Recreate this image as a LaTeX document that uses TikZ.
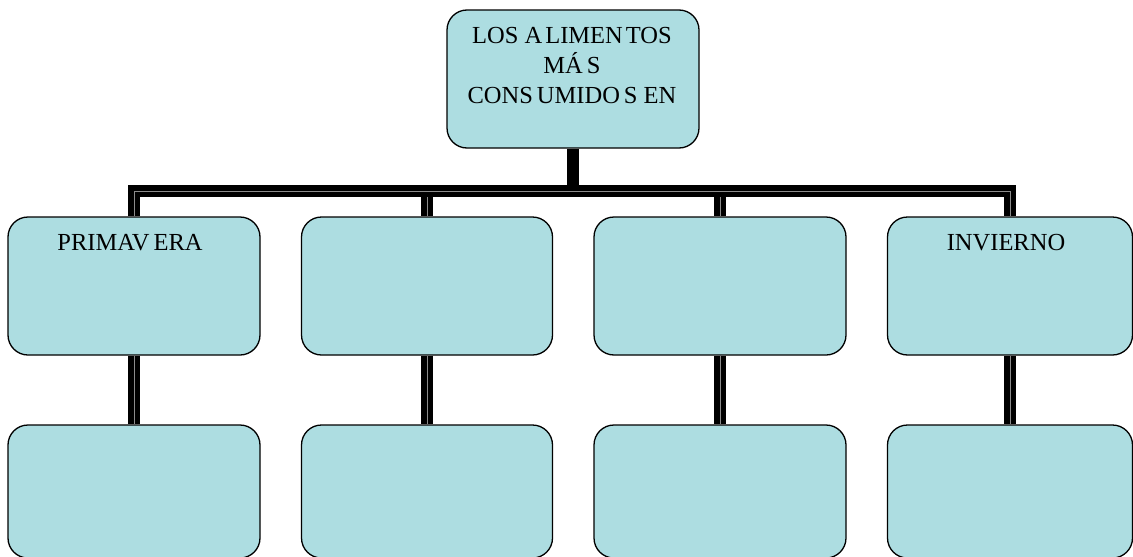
\documentclass[tikz,border=0pt]{standalone}
\usepackage{fontspec}
\setmainfont{Liberation Serif}
\definecolor{boxc}{RGB}{173,221,225}
\begin{document}
\begin{tikzpicture}[x=1pt,y=-1pt,
  box/.style={draw=black,fill=boxc,line width=1.3pt,rounded corners=20pt,
    rectangle,inner sep=0pt,minimum height=#1},
  box/.default=138pt,
  conn/.style={draw=black,line width=5.8pt,double=black!45,double distance=0.5pt,line join=miter},
  solidconn/.style={draw=black,line width=12pt},
  txt/.style={anchor=base,inner sep=0pt,font=\fontsize{24.5}{30}\selectfont}]
\useasboundingbox (0,0) rectangle (1133,557);
% top box
\node[box,minimum width=252pt] (top) at (573,79) {};
% row 1
\node[box,minimum width=252pt] (r1a) at (134,286) {};
\node[box,minimum width=251pt] (r1b) at (427,286) {};
\node[box,minimum width=252pt] (r1c) at (720,286) {};
\node[box,minimum width=245pt] (r1d) at (1010,286) {};
% row 2
\node[box=133pt,minimum width=252pt] (r2a) at (134,491.5) {};
\node[box=133pt,minimum width=251pt] (r2b) at (427,491.5) {};
\node[box=133pt,minimum width=252pt] (r2c) at (720,491.5) {};
\node[box=133pt,minimum width=245pt] (r2d) at (1010,491.5) {};
% connectors
\coordinate (bar) at (573,191);
\draw[conn] (r1b.north |- bar) -- (r1b.north);
\draw[conn] (r1c.north |- bar) -- (r1c.north);
\draw[conn] (r1a.north) -- (r1a.north |- bar) -- (r1d.north |- bar) -- (r1d.north);
\draw[solidconn] (top.south) -- ([yshift=6pt]top.south |- bar);
\draw[conn] (r1a.south) -- (r2a.north);
\draw[conn] (r1b.south) -- (r2b.north);
\draw[conn] (r1c.south) -- (r2c.north);
\draw[conn] (r1d.south) -- (r2d.north);
% texts
\node[txt] (t1) at (572,43) {LOS A\kern3pt LIMEN\kern3pt TOS};
\node[txt] (t2) at (572,73) {MÁ\kern4pt S};
\node[txt] (t3) at (572,103) {CONS\kern4pt UMIDO\kern4pt S EN};
\node[txt] (tp) at (130,250) {PRIMAV\kern4pt ERA};
\node[txt] (ti) at (1006,250) {INVIERNO};
\end{tikzpicture}
\end{document}
